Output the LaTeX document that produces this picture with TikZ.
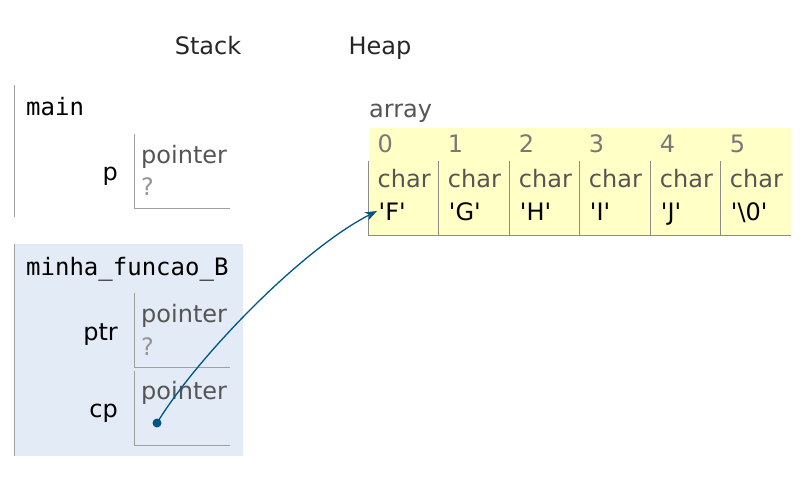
\documentclass[tikz,border=0pt]{standalone}
\usepackage{fontspec}
\setmainfont{DejaVu Sans}
\setmonofont{DejaVu Sans Mono}
\usetikzlibrary{arrows.meta}
\definecolor{framefill}{RGB}{226,235,246}
\definecolor{heapfill}{RGB}{255,255,198}
\definecolor{boxline}{RGB}{160,160,160}
\definecolor{cellline}{RGB}{140,140,140}
\definecolor{typegray}{RGB}{85,85,85}
\definecolor{qgray}{RGB}{150,150,150}
\definecolor{idxgray}{RGB}{120,120,120}
\definecolor{arrowblue}{RGB}{0,85,131}
\tikzset{
  txt/.style={anchor=base west, inner sep=0pt, font=\fontsize{24}{28}\selectfont},
  mono/.style={anchor=base west, inner sep=0pt, font=\ttfamily\fontsize{24}{28}\selectfont},
  lbl/.style={anchor=base east, inner sep=0pt, font=\fontsize{24}{28}\selectfont},
  head/.style={anchor=base, inner sep=0pt, font=\fontsize{24}{28}\selectfont, text=black!85},
  typ/.style={txt, text=typegray},
  qm/.style={txt, text=qgray},
  idx/.style={txt, text=idxgray},
  boxl/.style={draw=boxline, line width=1pt},
  celll/.style={draw=cellline, line width=1pt},
  ptrarrow/.style={draw=arrowblue, line width=1.3pt, -{Stealth[length=12pt,width=9pt]}}
}
\begin{document}
\begin{tikzpicture}[x=1pt,y=-1pt]
\useasboundingbox (0,0) rectangle (812,483);
% headings
\node[head] (stack) at (208,54) {Stack};
\node[head] (heap) at (380,54) {Heap};
% main frame
\draw[boxl] (14.5,85) -- (14.5,217);
\node[mono] (main) at (26,115) {main};
\node[lbl] (plab) at (118,180) {p};
\draw[boxl] (134.5,134) -- (134.5,208) -- (230,208);
\node[typ] (ptype) at (141,163) {pointer};
\node[qm] (pval) at (141,195) {?};
% minha_funcao_B frame
\fill[framefill] (14.5,244) rectangle (243,456);
\draw[boxl] (14.5,244) -- (14.5,456);
\node[mono] (fb) at (26,275) {minha\_funcao\_B};
\node[lbl] (ptrlab) at (118,340) {ptr};
\draw[boxl] (134.5,293) -- (134.5,367) -- (230,367);
\node[typ] (ptrtype) at (141,322) {pointer};
\node[qm] (ptrval) at (141,355) {?};
\node[lbl] (cplab) at (118,417) {cp};
\draw[boxl] (134.5,371) -- (134.5,445) -- (230,445);
\node[typ] (cptype) at (141,399) {pointer};
\coordinate (cpdot) at (157,423);
\fill[arrowblue] (cpdot) circle (4.5);
% heap array
\node[typ] (arrlab) at (369,117) {array};
\fill[heapfill] (368.5,128) rectangle (791,235);
\draw[celll] (368.5,161) -- (368.5,235) -- (791,235);
\foreach \x in {438.7,509.7,579.7,650.7,720.7} {
  \draw[celll] (\x,161) -- (\x,235);
}
\foreach \i/\x/\v in {0/368.5/F,1/438.7/G,2/509.7/H,3/579.7/I,4/650.7/J,5/720.7/\textbackslash 0} {
  \node[idx] (idx\i) at (\x+9,152) {\i};
  \node[typ] (type\i) at (\x+9,187) {char};
  \node[txt] (val\i) at (\x+10,220) {\textquotesingle\v\textquotesingle};
}
\coordinate (arrtip) at (377,211);
\draw[ptrarrow] (cpdot) .. controls (195,360) and (300,250) .. (arrtip);
\end{tikzpicture}
\end{document}
